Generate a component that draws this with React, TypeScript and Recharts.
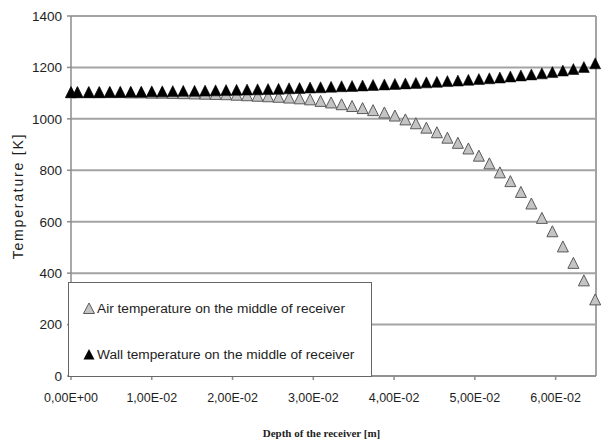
import {
  CartesianGrid,
  Legend,
  ReferenceLine,
  Scatter,
  ScatterChart,
  XAxis,
  YAxis,
} from "recharts";

const FONT = '"Liberation Sans", Arial, sans-serif';
const SERIF = '"Liberation Serif", "Times New Roman", serif';
const GRID = "#a3a3a3";
const AXIS = "#8c8c8c";
const TEXT = "#1e1e1e";
const AIR_FILL = "#c4c4c4";
const AIR_STROKE = "#5a5a5a";
const WALL_FILL = "#000000";

const X_MAX = 0.065;
const X_TICKS = [0, 0.01, 0.02, 0.03, 0.04, 0.05, 0.06];
const Y_TICKS = [0, 200, 400, 600, 800, 1000, 1200, 1400];

// depth along the receiver [m]
const DEPTH = [
  0, 0.0008, 0.0022, 0.0035, 0.0048, 0.0061, 0.0074, 0.0087, 0.01, 0.0113,
  0.0126, 0.0139, 0.0153, 0.0166, 0.0179, 0.0192, 0.0205, 0.0218, 0.0231,
  0.0244, 0.0257, 0.027, 0.0283, 0.0296, 0.0309, 0.0322, 0.0335, 0.0348,
  0.0361, 0.0374, 0.0388, 0.0401, 0.0414, 0.0427, 0.044, 0.0453, 0.0466,
  0.0479, 0.0492, 0.0505, 0.0518, 0.0531, 0.0544, 0.0557, 0.057, 0.0583,
  0.0596, 0.0609, 0.0622, 0.0635, 0.0649,
];

const AIR_T = [
  1100, 1100, 1100, 1100, 1100, 1100, 1099, 1099, 1098, 1098, 1097, 1096,
  1095, 1094, 1093, 1092, 1090, 1088, 1086, 1084, 1082, 1079, 1076, 1072,
  1066, 1060, 1053, 1046, 1038, 1030, 1021, 1009, 994, 979, 962, 944, 923,
  903, 881, 853, 823, 788, 754, 712, 667, 611, 559, 500, 436, 368, 294,
];

const WALL_T = [
  1100, 1100, 1100, 1100, 1101, 1101, 1102, 1102, 1103, 1103, 1104, 1105,
  1105, 1106, 1107, 1108, 1109, 1110, 1111, 1112, 1113, 1115, 1116, 1118,
  1119, 1121, 1123, 1124, 1126, 1128, 1130, 1132, 1134, 1136, 1138, 1140,
  1143, 1145, 1148, 1151, 1154, 1157, 1161, 1165, 1169, 1173, 1178, 1184,
  1190, 1198, 1212,
];

const AIR_NAME = "Air temperature on the middle of receiver";
const WALL_NAME = "Wall temperature on the middle of receiver";

const airData = DEPTH.map((x, i) => ({ x, y: AIR_T[i] }));
const wallData = DEPTH.map((x, i) => ({ x, y: WALL_T[i] }));

// Excel-style "1,00E-02"
function sci(v: number) {
  if (v === 0) return "0,00E+00";
  const e = Math.floor(Math.log10(Math.abs(v)) + 1e-9);
  const m = v / Math.pow(10, e);
  const sign = e < 0 ? "-" : "+";
  return `${m.toFixed(2).replace(".", ",")}E${sign}${String(Math.abs(e)).padStart(2, "0")}`;
}

function tri(cx: number, cy: number) {
  return `${cx},${cy - 6.5} ${cx + 5.5},${cy + 4.5} ${cx - 5.5},${cy + 4.5}`;
}

function AirMark(props: any) {
  const { cx, cy } = props;
  if (cx == null || cy == null) return null;
  return <polygon points={tri(cx, cy)} fill={AIR_FILL} stroke={AIR_STROKE} strokeWidth={1} />;
}

function WallMark(props: any) {
  const { cx, cy } = props;
  if (cx == null || cy == null) return null;
  return <polygon points={tri(cx, cy)} fill={WALL_FILL} stroke={WALL_FILL} strokeWidth={0.5} />;
}

function LegendBox() {
  const row = { display: "flex", alignItems: "center", height: 46, whiteSpace: "nowrap" } as const;
  return (
    <div
      style={{
        boxSizing: "border-box",
        width: 304,
        height: 95,
        background: "#fff",
        border: "1.5px solid #666",
        padding: "2px 0 0 14px",
        fontFamily: FONT,
        fontSize: 13.7,
        color: TEXT,
      }}
    >
      <div style={row}>
        <svg width={12} height={12} style={{ marginRight: 2 }}>
          <polygon points="6,1 11.5,11.5 0.5,11.5" fill={AIR_FILL} stroke={AIR_STROKE} strokeWidth={1} />
        </svg>
        {AIR_NAME}
      </div>
      <div style={row}>
        <svg width={12} height={12} style={{ marginRight: 2 }}>
          <polygon points="6,1 11.5,11.5 0.5,11.5" fill={WALL_FILL} />
        </svg>
        {WALL_NAME}
      </div>
    </div>
  );
}

export default function App() {
  return (
    <div style={{ position: "absolute", left: 0, top: 0, width: 601, height: 441, background: "#fff" }}>
      <ScatterChart width={601} height={441} margin={{ top: 16, right: 5, bottom: 0, left: 0 }}>
        <CartesianGrid horizontal vertical={false} stroke={GRID} strokeWidth={2} />
        <XAxis
          type="number"
          dataKey="x"
          domain={[0, X_MAX]}
          ticks={X_TICKS}
          tickFormatter={sci}
          height={65}
          stroke={AXIS}
          strokeWidth={1.5}
          tickSize={4}
          tickMargin={13}
          tick={{ fontSize: 12.5, fontFamily: FONT, fill: TEXT }}
          label={{
            value: "Depth of the receiver [m]",
            position: "insideBottom",
            offset: 4,
            dx: -12,
            style: { fontFamily: SERIF, fontSize: 11, fontWeight: "bold", fill: TEXT },
          }}
        />
        <YAxis
          type="number"
          dataKey="y"
          domain={[0, 1400]}
          ticks={Y_TICKS}
          width={71}
          stroke={AXIS}
          strokeWidth={1.5}
          tickSize={4}
          tickMargin={5}
          tick={{ fontSize: 13.5, fontFamily: FONT, fill: TEXT }}
          label={{
            value: "Temperature [K]",
            angle: -90,
            position: "insideLeft",
            offset: 18,
            style: { textAnchor: "middle", fontFamily: FONT, fontSize: 14, letterSpacing: 1.8, fill: TEXT },
          }}
        />
        <ReferenceLine x={X_MAX} stroke={GRID} strokeWidth={2} />
        <Scatter name={AIR_NAME} data={airData} shape={<AirMark />} isAnimationActive={false} />
        <Scatter name={WALL_NAME} data={wallData} shape={<WallMark />} isAnimationActive={false} />
        <Legend
          layout="horizontal"
          align="center"
          verticalAlign="middle"
          content={() => <LegendBox />}
          wrapperStyle={{ left: 68, top: 282, width: 304, height: 95 }}
        />
      </ScatterChart>
    </div>
  );
}
